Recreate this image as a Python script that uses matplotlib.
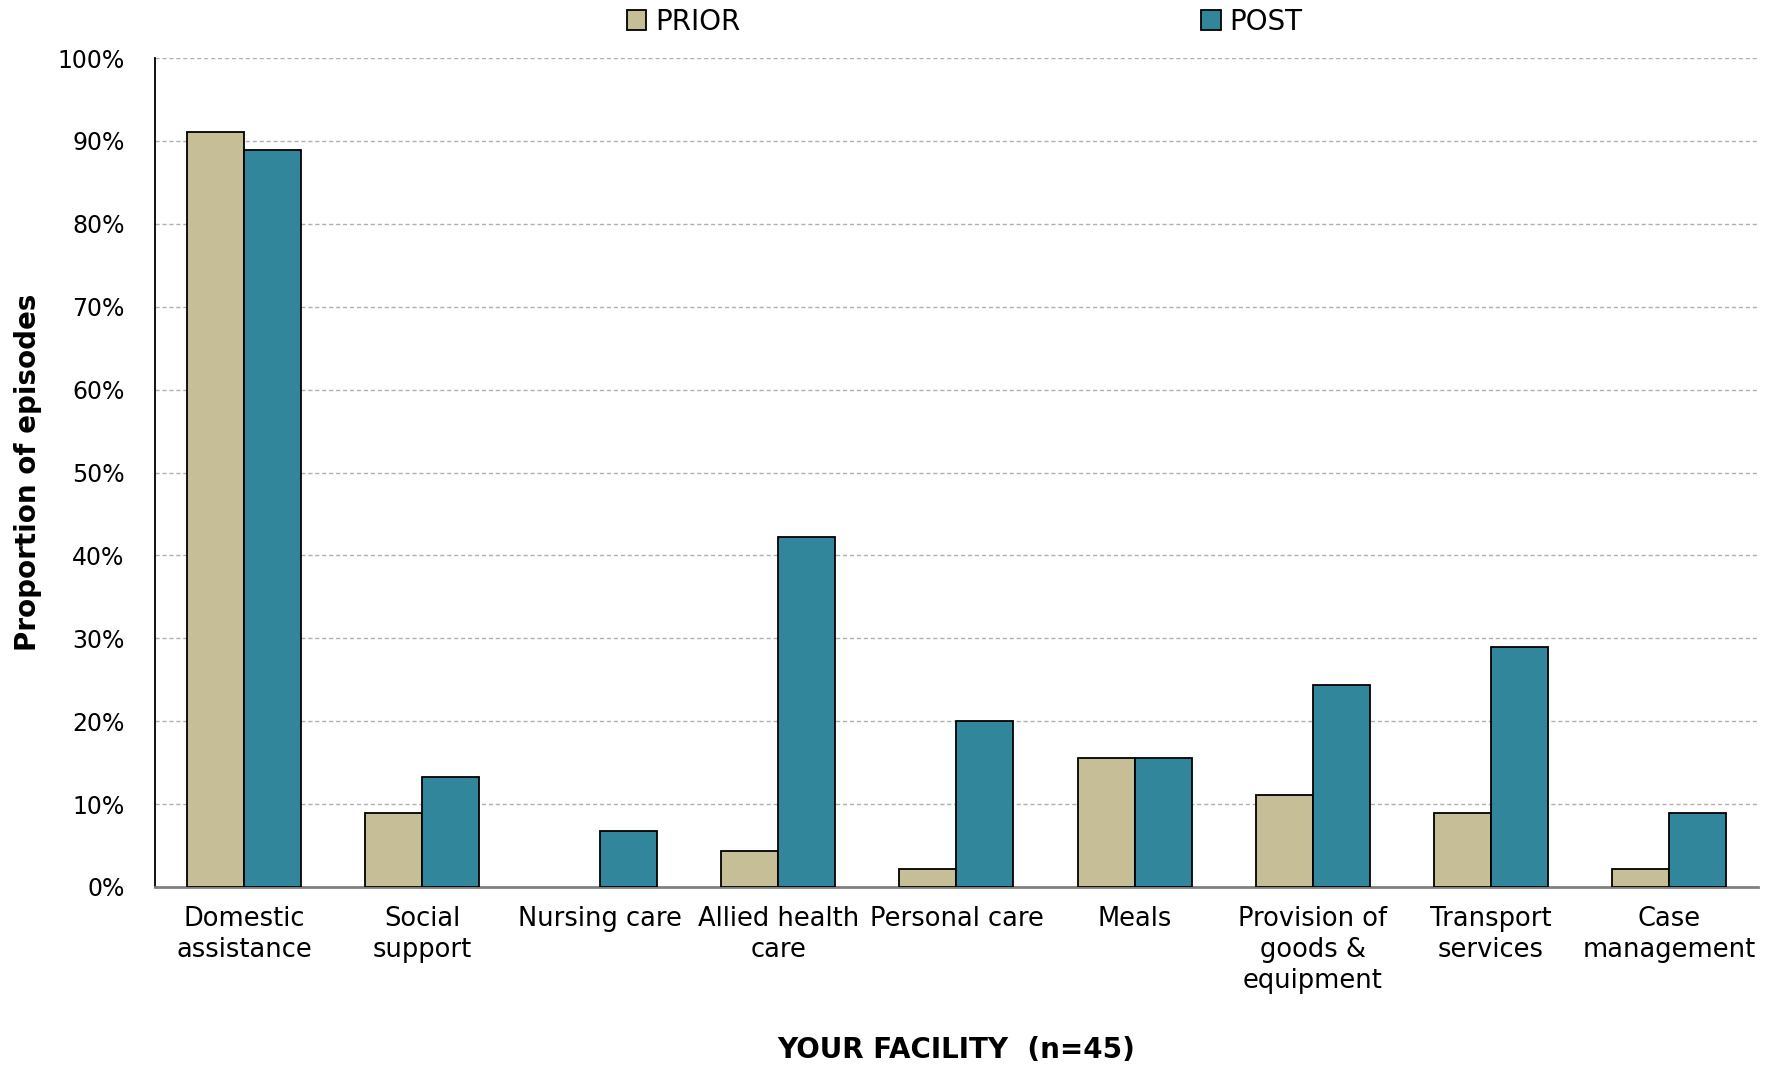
import matplotlib.pyplot as plt
import numpy as np
from matplotlib.ticker import PercentFormatter

plt.rcParams['font.family'] = ['DejaVu Sans']

categories = ['Domestic\nassistance', 'Social\nsupport', 'Nursing care',
              'Allied health\ncare', 'Personal care', 'Meals',
              'Provision of\ngoods &\nequipment', 'Transport\nservices',
              'Case\nmanagement']
prior = [91.1, 8.9, 0.0, 4.4, 2.2, 15.6, 11.1, 8.9, 2.2]
post = [88.9, 13.3, 6.7, 42.2, 20.0, 15.6, 24.4, 28.9, 8.9]

prior_color = '#C5BE97'
post_color = '#31869B'

fig = plt.figure(figsize=(17.73, 10.67), dpi=100)
ax = fig.add_axes([0.0874, 0.1687, 0.9041, 0.7769])

x = np.arange(len(categories))
w = 0.32
# zero-height bars get no outline so they stay invisible
prior_edges = [1.3 if v > 0 else 0 for v in prior]
post_edges = [1.3 if v > 0 else 0 for v in post]
ax.bar(x - w / 2, prior, w, color=prior_color, edgecolor='black',
       linewidth=prior_edges, label='PRIOR', zorder=3)
ax.bar(x + w / 2, post, w, color=post_color, edgecolor='black',
       linewidth=post_edges, label='POST', zorder=3)

ax.set_xlim(-0.5, len(categories) - 0.5)
ax.set_ylim(0, 100)
ax.set_yticks(np.arange(0, 101, 10))
ax.yaxis.set_major_formatter(PercentFormatter(decimals=0))
ax.set_xticks(x)
ax.set_xticklabels(categories, fontsize=18.5, linespacing=1.25)
ax.tick_params(axis='y', labelsize=17, length=0, pad=22)
ax.tick_params(axis='x', length=0, pad=14)

ax.grid(axis='y', color='#b0b0b0', linestyle=(0, (3, 2)), linewidth=1, zorder=0)
for s in ['top', 'right']:
    ax.spines[s].set_visible(False)
ax.spines['left'].set_color('black')
ax.spines['left'].set_linewidth(1.3)
ax.spines['bottom'].set_color('#808080')
ax.spines['bottom'].set_linewidth(2)

ax.set_ylabel('Proportion of episodes', fontsize=20, fontweight='bold', labelpad=11)
ax.set_xlabel('YOUR FACILITY  (n=45)', fontsize=20, fontweight='bold', labelpad=30)

ax.legend(ncol=2, loc='lower center', bbox_to_anchor=(0.505, 1.0), frameon=False,
          fontsize=20, columnspacing=16.6, handlelength=0.7, handleheight=0.7,
          handletextpad=0.3, borderaxespad=0.4)

fig.savefig('out.png', dpi=100)
